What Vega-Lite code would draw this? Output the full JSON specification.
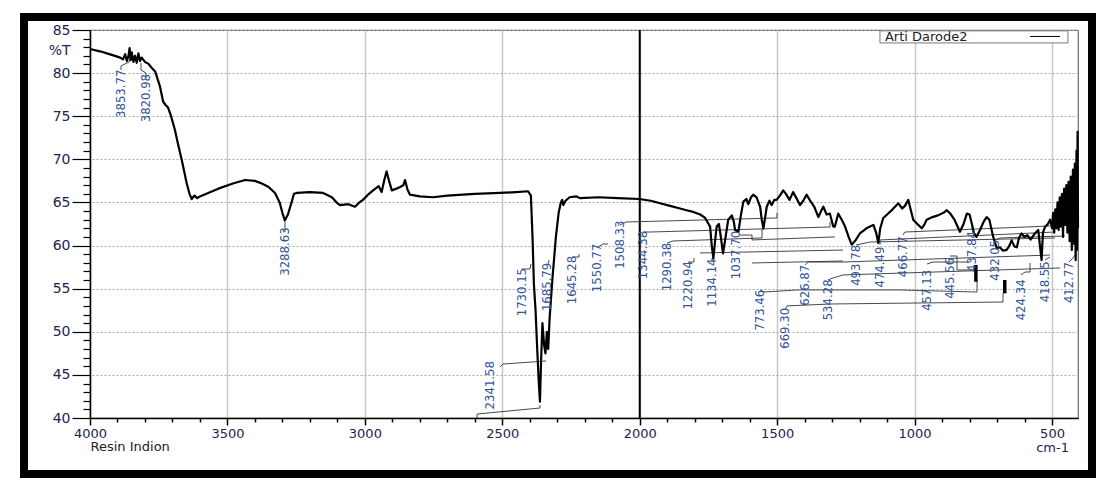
{
  "$schema": "https://vega.github.io/schema/vega-lite/v6.json",
  "width": 988,
  "height": 388,
  "autosize": "none",
  "padding": {"left": 90, "top": 30, "right": 21, "bottom": 63},
  "background": "white",
  "config": {"view": {"stroke": "#666", "strokeWidth": 1.2}},
  "datasets": {
    "spectrum": [
      {"w":4000,"T":82.8},{"w":3960,"T":82.5},{"w":3930,"T":82.2},{"w":3909,"T":82.0},{"w":3890,"T":81.8},{"w":3880,"T":81.6},{"w":3872,"T":82.2},{"w":3866,"T":81.4},{"w":3860,"T":82.0},{"w":3856,"T":82.9},{"w":3852,"T":81.5},{"w":3848,"T":82.4},{"w":3842,"T":81.3},{"w":3836,"T":82.0},{"w":3830,"T":81.2},{"w":3824,"T":82.3},{"w":3818,"T":81.4},{"w":3812,"T":81.8},{"w":3800,"T":81.3},{"w":3788,"T":81.1},{"w":3775,"T":80.6},{"w":3763,"T":80.2},{"w":3745,"T":78.4},{"w":3734,"T":76.7},{"w":3725,"T":76.3},{"w":3716,"T":76.0},{"w":3705,"T":75.0},{"w":3691,"T":73.4},{"w":3680,"T":71.8},{"w":3666,"T":69.9},{"w":3648,"T":67.2},{"w":3638,"T":66.0},{"w":3630,"T":65.4},{"w":3620,"T":65.8},{"w":3610,"T":65.5},{"w":3600,"T":65.7},{"w":3570,"T":66.1},{"w":3533,"T":66.6},{"w":3480,"T":67.2},{"w":3436,"T":67.6},{"w":3400,"T":67.5},{"w":3375,"T":67.2},{"w":3350,"T":66.8},{"w":3327,"T":66.1},{"w":3310,"T":65.0},{"w":3300,"T":63.8},{"w":3291,"T":62.9},{"w":3280,"T":63.6},{"w":3265,"T":65.2},{"w":3258,"T":66.0},{"w":3248,"T":66.1},{"w":3200,"T":66.2},{"w":3152,"T":66.1},{"w":3120,"T":65.6},{"w":3100,"T":64.9},{"w":3090,"T":64.7},{"w":3060,"T":64.8},{"w":3036,"T":64.5},{"w":3020,"T":65.0},{"w":3007,"T":65.3},{"w":2985,"T":66.0},{"w":2970,"T":66.4},{"w":2950,"T":66.9},{"w":2939,"T":66.2},{"w":2930,"T":67.5},{"w":2921,"T":68.6},{"w":2912,"T":67.5},{"w":2902,"T":66.4},{"w":2885,"T":66.6},{"w":2872,"T":66.8},{"w":2860,"T":67.0},{"w":2854,"T":67.6},{"w":2845,"T":66.5},{"w":2836,"T":65.9},{"w":2800,"T":65.7},{"w":2752,"T":65.6},{"w":2700,"T":65.8},{"w":2600,"T":66.0},{"w":2508,"T":66.1},{"w":2450,"T":66.2},{"w":2406,"T":66.3},{"w":2396,"T":65.8},{"w":2390,"T":61.0},{"w":2385,"T":55.5},{"w":2379,"T":52.5},{"w":2373,"T":48.0},{"w":2367,"T":44.0},{"w":2363,"T":41.9},{"w":2359,"T":46.5},{"w":2354,"T":51.0},{"w":2348,"T":48.5},{"w":2343,"T":47.5},{"w":2338,"T":50.0},{"w":2333,"T":48.0},{"w":2328,"T":51.5},{"w":2318,"T":56.0},{"w":2305,"T":61.0},{"w":2295,"T":63.8},{"w":2287,"T":65.0},{"w":2282,"T":65.3},{"w":2278,"T":64.7},{"w":2270,"T":65.2},{"w":2255,"T":65.6},{"w":2230,"T":65.7},{"w":2217,"T":65.5},{"w":2150,"T":65.6},{"w":2080,"T":65.5},{"w":2001,"T":65.4},{"w":1960,"T":65.2},{"w":1926,"T":64.9},{"w":1890,"T":64.6},{"w":1853,"T":64.3},{"w":1830,"T":64.1},{"w":1805,"T":63.9},{"w":1780,"T":63.6},{"w":1762,"T":63.2},{"w":1744,"T":62.2},{"w":1738,"T":60.0},{"w":1732,"T":58.5},{"w":1726,"T":60.5},{"w":1720,"T":62.2},{"w":1712,"T":62.5},{"w":1705,"T":61.0},{"w":1697,"T":59.1},{"w":1690,"T":60.5},{"w":1678,"T":63.0},{"w":1665,"T":63.5},{"w":1658,"T":62.8},{"w":1653,"T":61.8},{"w":1641,"T":61.6},{"w":1632,"T":63.5},{"w":1623,"T":65.1},{"w":1612,"T":65.4},{"w":1605,"T":64.8},{"w":1595,"T":65.6},{"w":1587,"T":65.9},{"w":1575,"T":65.6},{"w":1562,"T":64.5},{"w":1556,"T":63.0},{"w":1550,"T":62.0},{"w":1544,"T":63.2},{"w":1538,"T":64.5},{"w":1528,"T":65.2},{"w":1520,"T":64.7},{"w":1510,"T":65.3},{"w":1502,"T":65.3},{"w":1490,"T":65.8},{"w":1478,"T":66.4},{"w":1468,"T":66.0},{"w":1455,"T":65.3},{"w":1442,"T":66.2},{"w":1430,"T":65.5},{"w":1417,"T":64.7},{"w":1405,"T":65.2},{"w":1393,"T":65.9},{"w":1380,"T":65.2},{"w":1365,"T":64.5},{"w":1350,"T":63.3},{"w":1340,"T":64.0},{"w":1332,"T":64.5},{"w":1320,"T":63.6},{"w":1308,"T":63.7},{"w":1296,"T":62.2},{"w":1290,"T":62.2},{"w":1278,"T":63.7},{"w":1265,"T":63.0},{"w":1253,"T":62.2},{"w":1240,"T":61.0},{"w":1229,"T":60.1},{"w":1215,"T":60.6},{"w":1199,"T":61.4},{"w":1175,"T":62.0},{"w":1150,"T":62.4},{"w":1140,"T":61.5},{"w":1132,"T":60.3},{"w":1125,"T":62.0},{"w":1114,"T":63.2},{"w":1100,"T":63.6},{"w":1080,"T":64.2},{"w":1059,"T":64.9},{"w":1045,"T":64.3},{"w":1035,"T":64.6},{"w":1023,"T":65.3},{"w":1013,"T":64.0},{"w":1005,"T":63.0},{"w":990,"T":62.5},{"w":974,"T":62.0},{"w":965,"T":62.4},{"w":956,"T":63.0},{"w":935,"T":63.3},{"w":915,"T":63.5},{"w":895,"T":63.8},{"w":883,"T":64.1},{"w":870,"T":63.7},{"w":855,"T":63.0},{"w":835,"T":61.6},{"w":822,"T":62.5},{"w":810,"T":63.7},{"w":800,"T":63.6},{"w":790,"T":62.3},{"w":784,"T":61.4},{"w":775,"T":61.0},{"w":762,"T":61.8},{"w":748,"T":62.8},{"w":738,"T":63.3},{"w":728,"T":63.0},{"w":714,"T":61.0},{"w":701,"T":59.7},{"w":690,"T":59.8},{"w":678,"T":59.4},{"w":665,"T":59.5},{"w":655,"T":60.0},{"w":647,"T":60.6},{"w":637,"T":59.9},{"w":628,"T":59.8},{"w":620,"T":60.9},{"w":611,"T":61.4},{"w":600,"T":61.0},{"w":590,"T":61.2},{"w":578,"T":60.7},{"w":565,"T":61.3},{"w":550,"T":61.8},{"w":544,"T":60.0},{"w":538,"T":58.3},{"w":533,"T":61.5},{"w":525,"T":62.2},{"w":515,"T":62.5},{"w":507,"T":63.0},{"w":500,"T":62.0},{"w":496,"T":63.8},{"w":492,"T":61.5},{"w":488,"T":64.2},{"w":484,"T":62.0},{"w":480,"T":65.0},{"w":476,"T":61.8},{"w":472,"T":65.6},{"w":468,"T":62.2},{"w":464,"T":66.0},{"w":460,"T":61.0},{"w":456,"T":66.6},{"w":452,"T":62.4},{"w":448,"T":67.0},{"w":444,"T":61.5},{"w":440,"T":67.4},{"w":436,"T":60.5},{"w":432,"T":68.0},{"w":428,"T":59.5},{"w":424,"T":68.8},{"w":420,"T":60.2},{"w":417,"T":69.5},{"w":414,"T":58.3},{"w":411,"T":71.0},{"w":409,"T":59.5},{"w":407,"T":73.2},{"w":405.5,"T":62.0}
    ],
    "labels": [
      {"t":"3853.77","w":3887,"T":77.6},{"t":"3820.98","w":3796,"T":77.1},{"t":"3288.63","w":3291,"T":59.3},{"t":"1730.15","w":2428,"T":54.6},{"t":"1685.79","w":2337,"T":55.2},{"t":"1645.28","w":2246,"T":56.0},{"t":"1550.77","w":2155,"T":57.4},{"t":"1508.33","w":2072,"T":60.1},{"t":"1344.38","w":1988,"T":58.9},{"t":"1290.38","w":1901,"T":57.5},{"t":"1220.94","w":1824,"T":55.4},{"t":"1134.14","w":1737,"T":55.7},{"t":"1037.70","w":1650,"T":58.9},{"t":"773.46","w":1563,"T":52.5},{"t":"669.30","w":1471,"T":50.4},{"t":"626.87","w":1399,"T":55.4},{"t":"534.28","w":1315,"T":53.7},{"t":"493.78","w":1213,"T":57.7},{"t":"474.49","w":1126,"T":57.5},{"t":"466.77","w":1042,"T":58.7},{"t":"457.13","w":955,"T":54.8},{"t":"445.56","w":871,"T":56.2},{"t":"437.84","w":791,"T":59.3},{"t":"432.05","w":707,"T":58.3},{"t":"424.34","w":613,"T":53.7},{"t":"418.55","w":526,"T":55.8},{"t":"412.77","w":438,"T":55.7},{"t":"2341.58","w":2545,"T":43.8}
    ],
    "leaders": [
      {"g":1,"i":1,"w":3887.2,"T":80.36},{"g":1,"i":2,"w":3887.2,"T":80.83},{"g":1,"i":3,"w":3858.1,"T":81.29},{"g":1,"i":4,"w":3854.5,"T":81.75},
      {"g":2,"i":1,"w":3796.3,"T":79.43},{"g":2,"i":2,"w":3796.3,"T":80.01},{"g":2,"i":3,"w":3814.5,"T":80.36},{"g":2,"i":4,"w":3814.5,"T":81.17},
      {"g":3,"i":1,"w":3290.6,"T":61.57},{"g":3,"i":2,"w":3290.6,"T":62.73},
      {"g":4,"i":1,"w":2428.3,"T":57.28},{"g":4,"i":2,"w":2399.2,"T":57.28},{"g":4,"i":3,"w":2395.6,"T":57.86},
      {"g":5,"i":1,"w":2333.7,"T":57.86},{"g":5,"i":2,"w":2330.1,"T":58.32},
      {"g":6,"i":1,"w":2246.4,"T":58.67},{"g":6,"i":2,"w":2220.9,"T":58.67},{"g":6,"i":3,"w":2220.9,"T":59.02},
      {"g":7,"i":1,"w":2151.8,"T":59.83},{"g":7,"i":2,"w":2133.6,"T":60.18},{"g":7,"i":3,"w":2115.4,"T":60.18},
      {"g":8,"i":1,"w":2071.8,"T":62.38},{"g":8,"i":2,"w":2050.0,"T":62.73},{"g":8,"i":3,"w":1500.6,"T":63.2},{"g":8,"i":4,"w":1500.6,"T":63.78},
      {"g":9,"i":1,"w":1988.1,"T":61.57},{"g":9,"i":2,"w":1962.6,"T":61.57},{"g":9,"i":3,"w":1307.7,"T":62.15},{"g":9,"i":4,"w":1307.7,"T":62.73},
      {"g":10,"i":1,"w":1900.8,"T":60.3},{"g":10,"i":2,"w":1879.0,"T":60.53},{"g":10,"i":3,"w":1555.1,"T":60.88},{"g":10,"i":4,"w":1555.1,"T":61.92},
      {"g":11,"i":1,"w":1824.3,"T":58.09},{"g":11,"i":2,"w":1802.5,"T":58.09},{"g":11,"i":3,"w":1802.5,"T":58.56},
      {"g":12,"i":1,"w":1780.7,"T":59.14},{"g":12,"i":2,"w":1260.4,"T":59.48},
      {"g":13,"i":1,"w":1737.0,"T":58.09},{"g":13,"i":2,"w":1737.0,"T":58.56},
      {"g":14,"i":1,"w":1635.2,"T":61.22},{"g":14,"i":2,"w":1591.5,"T":61.22},{"g":14,"i":3,"w":1591.5,"T":60.65},{"g":14,"i":4,"w":1289.5,"T":61.0},
      {"g":15,"i":1,"w":1591.5,"T":57.98},{"g":15,"i":2,"w":1260.4,"T":58.21},
      {"g":16,"i":1,"w":1562.4,"T":54.85},{"g":16,"i":2,"w":1547.9,"T":54.61},{"g":16,"i":3,"w":1427.8,"T":54.85},{"g":16,"i":4,"w":1053.1,"T":54.85},{"g":16,"i":5,"w":772.9,"T":54.61},{"g":16,"i":6,"w":772.9,"T":56.01},
      {"g":17,"i":1,"w":1471.5,"T":52.53},{"g":17,"i":2,"w":1464.2,"T":53.0},{"g":17,"i":3,"w":1307.7,"T":53.22},{"g":17,"i":4,"w":678.3,"T":53.45},{"g":17,"i":5,"w":678.3,"T":54.5},
      {"g":18,"i":1,"w":1398.7,"T":57.74},{"g":18,"i":2,"w":1387.8,"T":58.09},{"g":18,"i":3,"w":1260.4,"T":58.09},{"g":18,"i":4,"w":507.3,"T":58.9},
      {"g":19,"i":1,"w":1315.0,"T":56.01},{"g":19,"i":2,"w":1296.8,"T":56.24},{"g":19,"i":3,"w":1260.4,"T":56.59},{"g":19,"i":4,"w":471.0,"T":57.4},
      {"g":20,"i":1,"w":1213.1,"T":60.06},{"g":20,"i":2,"w":1162.2,"T":60.41},{"g":20,"i":3,"w":489.1,"T":60.88},
      {"g":21,"i":1,"w":1125.8,"T":60.06},{"g":21,"i":2,"w":1125.8,"T":60.65},{"g":21,"i":3,"w":489.1,"T":61.57},
      {"g":22,"i":1,"w":1042.1,"T":61.22},{"g":22,"i":2,"w":1034.9,"T":61.57},{"g":22,"i":3,"w":507.3,"T":62.27},
      {"g":23,"i":1,"w":954.8,"T":57.86},{"g":23,"i":2,"w":933.0,"T":58.09},{"g":23,"i":3,"w":798.4,"T":58.09},
      {"g":24,"i":1,"w":871.1,"T":58.79},{"g":24,"i":2,"w":845.7,"T":58.79},{"g":24,"i":3,"w":845.7,"T":57.17},{"g":24,"i":4,"w":772.9,"T":57.17},
      {"g":25,"i":1,"w":791.1,"T":61.8},{"g":25,"i":2,"w":791.1,"T":62.27},
      {"g":26,"i":1,"w":707.4,"T":60.65},{"g":26,"i":2,"w":689.2,"T":60.88},{"g":26,"i":3,"w":452.8,"T":61.11},
      {"g":27,"i":1,"w":612.8,"T":56.59},{"g":27,"i":2,"w":598.3,"T":56.93},{"g":27,"i":3,"w":580.1,"T":56.93},{"g":27,"i":4,"w":580.1,"T":57.98},
      {"g":28,"i":1,"w":525.5,"T":58.32},{"g":28,"i":2,"w":507.3,"T":58.67},
      {"g":29,"i":1,"w":438.2,"T":58.09},{"g":29,"i":2,"w":423.7,"T":58.56},{"g":29,"i":3,"w":416.4,"T":58.9},
      {"g":30,"i":1,"w":2508.3,"T":45.91},{"g":30,"i":2,"w":2497.4,"T":46.26},{"g":30,"i":3,"w":2341.0,"T":46.61},
      {"g":31,"i":1,"w":2592.0,"T":40.0},{"g":31,"i":2,"w":2592.0,"T":40.46},{"g":31,"i":3,"w":2362.8,"T":41.16},{"g":31,"i":4,"w":2362.8,"T":41.51}
    ],
    "bars": [{"w":777,"T":57.75,"T2":55.8},{"w":672,"T":56.0,"T2":54.46}],
    "cursor": [{"w":2000,"T":40,"T2":85}],
    "frame": [{"w":4240,"w2":354.6,"T":86.5,"T2":33.5}],
    "legendbox": [{"w":1126,"w2":442,"T":84.9,"T2":83.5}],
    "legendline": [{"w":580,"w2":471,"T":84.25}],
    "legendtext": [{"w":1108,"T":84.2,"t":"Arti Darode2"}]
  },
  "encoding": {
    "x": {
      "field": "w", "type": "quantitative",
      "scale": {"domain": [405.5, 4000], "reverse": true, "zero": false, "nice": false},
      "axis": {
        "values": [500,600,700,800,900,1000,1100,1200,1300,1400,1500,1600,1700,1800,1900,2000,2100,2200,2300,2400,2500,2600,2700,2800,2900,3000,3100,3200,3300,3400,3500,3600,3700,3800,3900,4000],
        "format": "d",
        "labelExpr": "datum.value % 500 === 0 ? (datum.value === 500 ? ['500', 'cm-1'] : datum.label) : ''",
        "tickSize": {"condition": {"test": "datum.value % 500 === 0", "value": 7}, "value": 4},
        "tickColor": "black", "tickWidth": 1.5,
        "domainColor": "black", "domainWidth": 1.5,
        "grid": true,
        "gridOpacity": {"condition": {"test": "datum.value % 500 === 0", "value": 1}, "value": 0},
        "gridColor": "#c8c8c8", "gridWidth": 1.5,
        "labelFont": "DejaVu Sans", "labelFontSize": 13, "labelColor": "#1c2450", "labelPadding": 2, "labelLineHeight": 14,
        "labelOverlap": false, "labelFlush": false,
        "title": "Resin Indion", "titleFont": "DejaVu Sans", "titleFontSize": 13, "titleFontWeight": "normal", "titleColor": "#222",
        "titleAnchor": "start", "titleAlign": "left", "titleX": 0, "titleY": 22, "titleBaseline": "top"
      }
    },
    "y": {
      "field": "T", "type": "quantitative",
      "scale": {"domain": [40, 85], "zero": false, "nice": false},
      "axis": {
        "values": [40,41,42,43,44,45,46,47,48,49,50,51,52,53,54,55,56,57,58,59,60,61,62,63,64,65,66,67,68,69,70,71,72,73,74,75,76,77,78,79,80,81,82,82.6,83,84,85],
        "labelExpr": "datum.value % 5 === 0 ? datum.label : (abs(datum.value - 82.6) < 0.05 ? '%T' : '')",
        "tickSize": {"condition": {"test": "datum.value % 5 === 0 || abs(datum.value - 82.6) < 0.05", "value": 18}, "value": 7},
        "tickOpacity": {"condition": {"test": "abs(datum.value - 82.6) < 0.05", "value": 0}, "value": 1},
        "tickColor": "black", "tickWidth": 1.2,
        "domainColor": "black", "domainWidth": 1.5,
        "grid": true,
        "gridOpacity": {"condition": {"test": "datum.value % 5 === 0", "value": 1}, "value": 0},
        "gridColor": "#a8a8a8", "gridWidth": 1, "gridDash": [2, 2],
        "labelFont": "DejaVu Sans", "labelFontSize": 14, "labelColor": "#1c2450", "labelPadding": 2,
        "labelOverlap": false, "labelFlush": false,
        "title": null
      }
    }
  },
  "layer": [
    {"data": {"name": "cursor"}, "mark": {"type": "rule", "color": "black", "strokeWidth": 2}, "encoding": {"y2": {"field": "T2"}}},
    {"data": {"name": "leaders"}, "mark": {"type": "line", "color": "#333", "strokeWidth": 0.9}, "encoding": {"detail": {"field": "g", "type": "nominal"}, "order": {"field": "i", "type": "quantitative"}}},
    {"data": {"name": "bars"}, "mark": {"type": "rule", "color": "black", "strokeWidth": 3.5}, "encoding": {"y2": {"field": "T2"}}},
    {"data": {"name": "spectrum"}, "mark": {"type": "line", "color": "black", "strokeWidth": 2.2, "strokeJoin": "round"}, "encoding": {}},
    {"data": {"name": "labels"}, "mark": {"type": "text", "angle": 270, "align": "center", "baseline": "middle", "font": "'DejaVu Sans Condensed', 'Liberation Sans Narrow', 'Liberation Sans', sans-serif", "fontSize": 13, "color": "#33569a"}, "encoding": {"text": {"field": "t"}}},
    {"data": {"name": "legendbox"}, "mark": {"type": "rect", "fill": "white", "stroke": "#777", "strokeWidth": 1}, "encoding": {"x2": {"field": "w2"}, "y2": {"field": "T2"}}},
    {"data": {"name": "legendline"}, "mark": {"type": "rule", "color": "black", "strokeWidth": 1}, "encoding": {"x2": {"field": "w2"}}},
    {"data": {"name": "legendtext"}, "mark": {"type": "text", "align": "left", "baseline": "middle", "font": "DejaVu Sans", "fontSize": 13, "color": "#222"}, "encoding": {"text": {"field": "t"}}},
    {"data": {"name": "frame"}, "mark": {"type": "rect", "fillOpacity": 0, "stroke": "black", "strokeWidth": 8, "clip": false}, "encoding": {"x2": {"field": "w2"}, "y2": {"field": "T2"}}}
  ]
}
